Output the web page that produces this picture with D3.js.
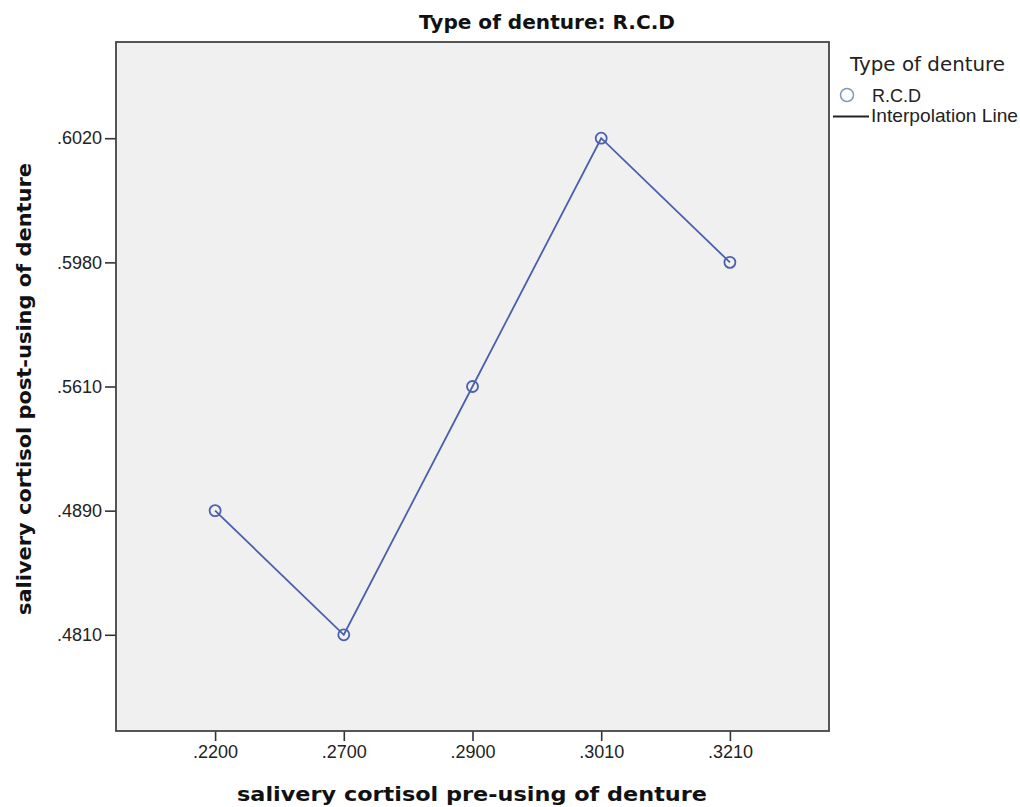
<!DOCTYPE html>
<html>
<head>
<meta charset="utf-8">
<script src="https://cdn.jsdelivr.net/npm/d3@7"></script>
<style>
  html, body { margin: 0; padding: 0; background: #ffffff; }
  svg { display: block; }
</style>
</head>
<body>
<svg id="chart" width="1020" height="807"></svg>
<script>
// ---- data ----
const chartTitle = "Type of denture: R.C.D";
const xAxisTitle = "salivery cortisol pre-using of denture";
const yAxisTitle = "salivery cortisol post-using of denture";
const legendTitle = "Type of denture";
const seriesName = "R.C.D";
const lineLegendLabel = "Interpolation Line";

const xCategories = [".2200", ".2700", ".2900", ".3010", ".3210"];
const yCategories = [".4810", ".4890", ".5610", ".5980", ".6020"];
const seriesX = [".2200", ".2700", ".2900", ".3010", ".3210"];
const seriesY = [".4890", ".4810", ".5610", ".6020", ".5980"];

// ---- layout ----
const plot = { left: 116, top: 42, right: 829, bottom: 731 };
const lineColor = "#4a5fae";

const svg = d3.select("#chart");

const x = d3.scalePoint().domain(xCategories).range([plot.left, plot.right]).padding(0.77);
const y = d3.scalePoint().domain(yCategories).range([plot.bottom, plot.top]).padding(0.775);

// plot background
svg.append("rect")
  .attr("x", plot.left).attr("y", plot.top)
  .attr("width", plot.right - plot.left).attr("height", plot.bottom - plot.top)
  .attr("fill", "#f0f0f0");

// axes
const xAxis = svg.append("g")
  .attr("transform", `translate(0,${plot.bottom})`)
  .call(d3.axisBottom(x).tickSize(10).tickPadding(4).tickSizeOuter(0));
const yAxis = svg.append("g")
  .attr("transform", `translate(${plot.left},0)`)
  .call(d3.axisLeft(y).tickSize(11).tickPadding(3).tickSizeOuter(0));

[xAxis, yAxis].forEach(g => {
  g.select(".domain").remove();
  g.selectAll(".tick line").attr("stroke", "#333").attr("stroke-width", 1.6);
  g.selectAll(".tick text")
    .attr("fill", "#222")
    .style("font-family", "'Liberation Sans', Arial, sans-serif")
    .style("font-size", "18px");
});

// plot border
svg.append("rect")
  .attr("x", plot.left).attr("y", plot.top)
  .attr("width", plot.right - plot.left).attr("height", plot.bottom - plot.top)
  .attr("fill", "none").attr("stroke", "#444").attr("stroke-width", 1.8);

// series
const pts = seriesX.map((d, i) => ({ x: d, y: seriesY[i] }));
const line = d3.line().x(d => x(d.x)).y(d => y(d.y));
svg.append("path")
  .datum(pts)
  .attr("d", line)
  .attr("fill", "none")
  .attr("stroke", lineColor)
  .attr("stroke-width", 1.8);

svg.selectAll("circle.pt")
  .data(pts)
  .enter().append("circle")
  .attr("class", "pt")
  .attr("cx", d => x(d.x))
  .attr("cy", d => y(d.y))
  .attr("r", 5.5)
  .attr("fill", "none")
  .attr("stroke", lineColor)
  .attr("stroke-width", 1.8);

// title
svg.append("text")
  .attr("x", 547).attr("y", 29)
  .attr("text-anchor", "middle")
  .attr("textLength", 256).attr("lengthAdjust", "spacingAndGlyphs")
  .style("font-family", "'DejaVu Sans', Verdana, sans-serif")
  .style("font-weight", "bold")
  .style("font-size", "20px")
  .attr("fill", "#111")
  .text(chartTitle);

// x axis title
svg.append("text")
  .attr("x", 472).attr("y", 801)
  .attr("text-anchor", "middle")
  .attr("textLength", 470).attr("lengthAdjust", "spacingAndGlyphs")
  .style("font-family", "'DejaVu Sans', Verdana, sans-serif")
  .style("font-weight", "bold")
  .style("font-size", "20px")
  .attr("fill", "#111")
  .text(xAxisTitle);

// y axis title
svg.append("text")
  .attr("transform", "translate(31,389) rotate(-90)")
  .attr("text-anchor", "middle")
  .attr("textLength", 452).attr("lengthAdjust", "spacingAndGlyphs")
  .style("font-family", "'DejaVu Sans', Verdana, sans-serif")
  .style("font-weight", "bold")
  .style("font-size", "20px")
  .attr("fill", "#111")
  .text(yAxisTitle);

// legend
const lg = svg.append("g");
lg.append("text")
  .attr("x", 850).attr("y", 71)
  .attr("textLength", 155).attr("lengthAdjust", "spacingAndGlyphs")
  .style("font-family", "'DejaVu Sans', Verdana, sans-serif")
  .style("font-size", "19px")
  .attr("fill", "#222")
  .text(legendTitle);
lg.append("circle")
  .attr("cx", 847).attr("cy", 95).attr("r", 6.5)
  .attr("fill", "#ffffff").attr("stroke", "#7f97c6").attr("stroke-width", 1.5);
lg.append("text")
  .attr("x", 872).attr("y", 102)
  .style("font-family", "'Liberation Sans', Arial, sans-serif")
  .style("font-size", "18px")
  .attr("fill", "#222")
  .text(seriesName);
lg.append("line")
  .attr("x1", 833).attr("x2", 869).attr("y1", 116.5).attr("y2", 116.5)
  .attr("stroke", "#222").attr("stroke-width", 1.8);
lg.append("text")
  .attr("x", 871).attr("y", 122)
  .attr("textLength", 147).attr("lengthAdjust", "spacingAndGlyphs")
  .style("font-family", "'Liberation Sans', Arial, sans-serif")
  .style("font-size", "18.5px")
  .attr("fill", "#222")
  .text(lineLegendLabel);
</script>
</body>
</html>
